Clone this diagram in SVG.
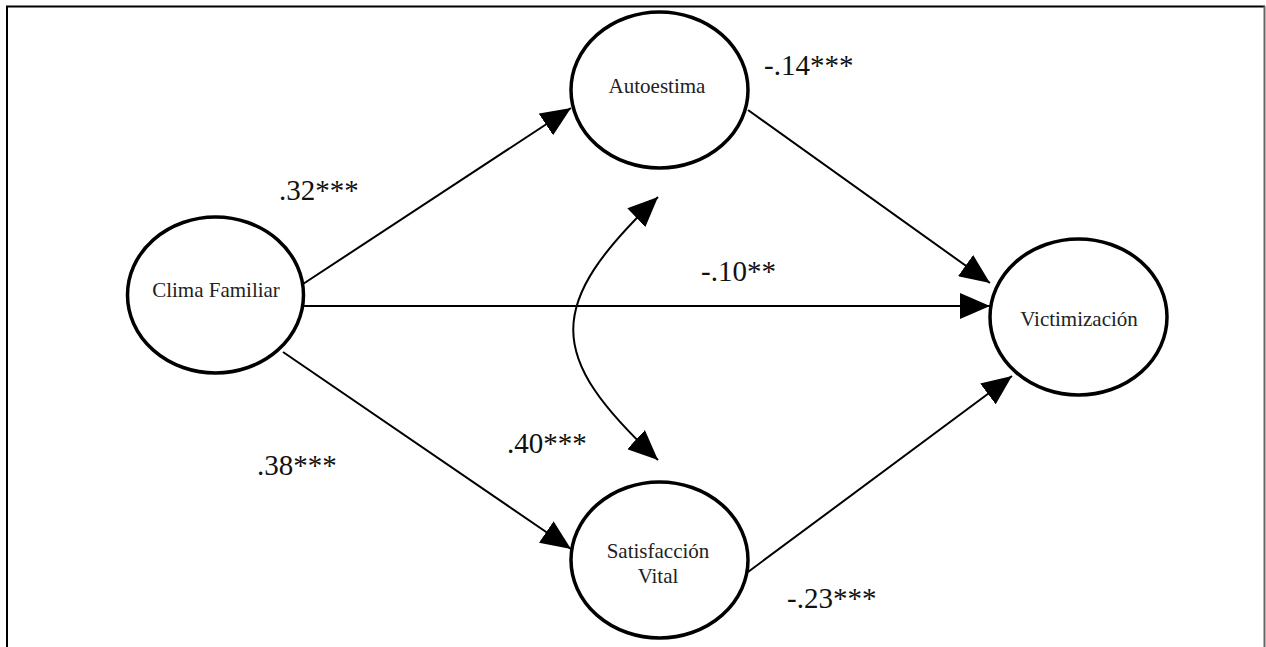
<svg xmlns="http://www.w3.org/2000/svg" width="1266" height="647" viewBox="0 0 1266 647">
<style>
.node{fill:#fff;stroke:#000;stroke-width:3.5}
.lbl{font-family:"Liberation Serif","Times New Roman",serif;font-size:21px;fill:#222;text-anchor:middle}
.coef{font-family:"Liberation Serif","Times New Roman",serif;font-size:29px;fill:#111}
.edge{fill:none;stroke:#000;stroke-width:2}
</style>
<defs>
<marker id="ah" markerUnits="userSpaceOnUse" markerWidth="30" markerHeight="26" refX="30" refY="13" orient="auto-start-reverse" viewBox="0 0 30 26">
<path d="M0,0 L30,13 L0,26 z" fill="#000"/>
</marker>
</defs>
<rect x="0" y="0" width="1266" height="647" fill="#fff"/>
<g id="frame">
<line x1="6" y1="6.5" x2="1265" y2="6.5" stroke="#000" stroke-width="2"/>
<line x1="7" y1="6" x2="7" y2="647" stroke="#000" stroke-width="2"/>
<line x1="1264.5" y1="6" x2="1264.5" y2="647" stroke="#666" stroke-width="2"/>
</g>
<g id="connectors">
<line class="edge" x1="303" y1="284" x2="571" y2="108" marker-end="url(#ah)"/>
<line class="edge" x1="304" y1="306" x2="990" y2="306" marker-end="url(#ah)"/>
<line class="edge" x1="283" y1="352" x2="571" y2="549" marker-end="url(#ah)"/>
<line class="edge" x1="748" y1="110" x2="990" y2="283" marker-end="url(#ah)"/>
<line class="edge" x1="748" y1="572" x2="1012" y2="376" marker-end="url(#ah)"/>
<path class="edge" d="M658,197 C545,305 545,355 658,460" marker-start="url(#ah)" marker-end="url(#ah)"/>
</g>
<g id="clima">
<ellipse class="node" cx="215.5" cy="295" rx="88" ry="78"/>
<text class="lbl" x="216" y="297">Clima Familiar</text>
</g>
<g id="autoestima">
<ellipse class="node" cx="659.5" cy="90" rx="88.5" ry="78"/>
<text class="lbl" x="657" y="93">Autoestima</text>
</g>
<g id="satisfaccion">
<ellipse class="node" cx="659.5" cy="560" rx="88.5" ry="78"/>
<text class="lbl" x="658" y="558">Satisfacción</text>
<text class="lbl" x="658" y="583">Vital</text>
</g>
<g id="victimizacion">
<ellipse class="node" cx="1078.5" cy="317" rx="88.5" ry="78"/>
<text class="lbl" x="1079" y="326">Victimización</text>
</g>
<g id="coefficients">
<text class="coef" x="279" y="200">.32***</text>
<text class="coef" x="257" y="475">.38***</text>
<text class="coef" x="507" y="453">.40***</text>
<text class="coef" x="764" y="75">-.14***</text>
<text class="coef" x="701" y="281">-.10**</text>
<text class="coef" x="787" y="608">-.23***</text>
</g>
</svg>
